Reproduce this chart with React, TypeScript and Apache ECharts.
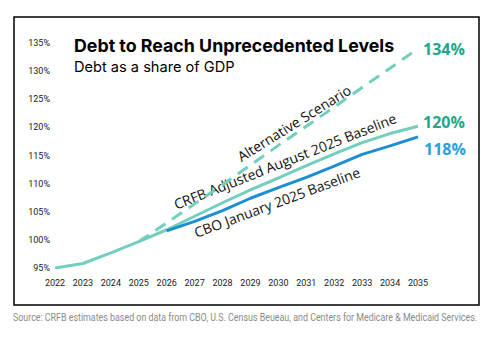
import React, { useEffect, useRef } from "react";
import * as echarts from "echarts";

const years = ["2022", "2023", "2024", "2025", "2026", "2027", "2028", "2029", "2030", "2031", "2032", "2033", "2034", "2035"];
const crfbAdjusted = [95.0, 95.8, 97.7, 99.7, 101.8, 104.2, 106.6, 108.9, 111.0, 113.2, 115.3, 117.3, 118.9, 120.2];
const cboBaseline = [null, null, null, null, 101.6, 103.3, 105.2, 107.4, 109.3, 111.1, 113.1, 115.2, 116.7, 118.3];
const alternative = [null, null, null, 99.7, 103.0, 106.4, 109.8, 113.3, 116.8, 120.2, 123.6, 127.1, 130.5, 134.0];

const SOURCE = "Source: CRFB estimates based on data from CBO, U.S. Census Beueau, and Centers for Medicare & Medicaid Services.";

const TEAL = "#72cfbd";
const TEAL_TEXT = "#1ba88b";
const BLUE = "#1c8fd3";
const BLUE_TEXT = "#2a9fda";

const deg = (d: number) => (d * Math.PI) / 180;

function measure(text: string, font: string) {
  const c = document.createElement("canvas");
  const ctx = c.getContext("2d");
  if (!ctx) return 0;
  ctx.font = font;
  return ctx.measureText(text).width;
}

export default function App() {
  const ref = useRef<HTMLDivElement>(null);
  useEffect(() => {
    if (!ref.current) return;
    const chart = echarts.init(ref.current, undefined, { renderer: "svg" });
    const srcW = measure(SOURCE, "10.5px Roboto") || 520;
    const srcScale = 464 / srcW;
    const endLbl = (color: string, offset: number[]) => ({
      show: true,
      formatter: (p: any) => Math.round(p.value) + "%",
      color,
      fontFamily: "Open Sans",
      fontWeight: "bold",
      fontSize: 16,
      distance: 5,
      offset,
    });
    const axisFont = {
      fontFamily: "Roboto",
      fontSize: 9,
      color: "#1a1a1a",
    };
    const rotText = (text: string, x: number, y: number, a: number) => ({
      type: "text",
      x,
      y,
      rotation: deg(a),
      style: {
        text,
        fontFamily: "Open Sans",
        fontWeight: 500,
        fontSize: 14,
        fill: "#111",
        align: "center",
        verticalAlign: "middle",
      },
    });
    chart.setOption({
      animation: false,
      backgroundColor: "#fff",
      grid: { left: 55, right: 79, top: 43, bottom: 82 },
      xAxis: {
        type: "category",
        data: years,
        boundaryGap: false,
        axisLine: { show: false },
        axisTick: { show: false },
        axisLabel: { margin: 10, ...axisFont },
      },
      yAxis: {
        type: "value",
        min: 95,
        max: 135,
        interval: 5,
        splitLine: { show: false },
        axisLine: { show: false },
        axisTick: { show: false },
        axisLabel: { margin: 5, formatter: "{value}%", ...axisFont },
      },
      series: [
        {
          name: "Alternative Scenario",
          type: "line",
          data: alternative,
          symbol: "none",
          lineStyle: { color: TEAL, width: 3, type: [12, 8] },
          endLabel: endLbl(TEAL_TEXT, [0, 0]),
        },
        {
          name: "CRFB Adjusted August 2025 Baseline",
          type: "line",
          data: crfbAdjusted,
          symbol: "none",
          lineStyle: { color: TEAL, width: 3 },
          endLabel: endLbl(TEAL_TEXT, [0, -4]),
        },
        {
          name: "CBO January 2025 Baseline",
          type: "line",
          data: cboBaseline,
          symbol: "none",
          lineStyle: { color: BLUE, width: 3 },
          endLabel: endLbl(BLUE_TEXT, [1, 12]),
        },
      ],
      graphic: [
        {
          type: "rect",
          shape: { x: 14, y: 17, width: 465, height: 288 },
          style: { fill: "none", stroke: "#000", lineWidth: 1.5 },
          silent: true,
        },
        {
          type: "text",
          x: 74,
          y: 45.5,
          style: {
            text: "Debt to Reach Unprecedented Levels",
            fontFamily: "Inter",
            fontWeight: "bold",
            fontSize: 17.8,
            fill: "#000",
            align: "left",
            verticalAlign: "middle",
          },
        },
        {
          type: "text",
          x: 74,
          y: 67,
          style: {
            text: "Debt as a share of GDP",
            fontFamily: "Inter",
            fontSize: 14.6,
            fill: "#000",
            align: "left",
            verticalAlign: "middle",
          },
        },
        rotText("Alternative Scenario", 294, 123, 32),
        rotText("CRFB Adjusted August 2025 Baseline", 285, 161, 21.5),
        rotText("CBO January 2025 Baseline", 277, 202, 20.5),
        {
          type: "text",
          x: 13,
          y: 317,
          scaleX: srcScale,
          style: {
            text: SOURCE,
            fontFamily: "Roboto",
            fontSize: 10.5,
            fill: "#8a8a8a",
            align: "left",
            verticalAlign: "middle",
          },
        },
      ],
    });
    return () => chart.dispose();
  }, []);
  return (
    <div
      ref={ref}
      style={{ position: "absolute", left: 0, top: 0, width: 497, height: 350 }}
    />
  );
}
